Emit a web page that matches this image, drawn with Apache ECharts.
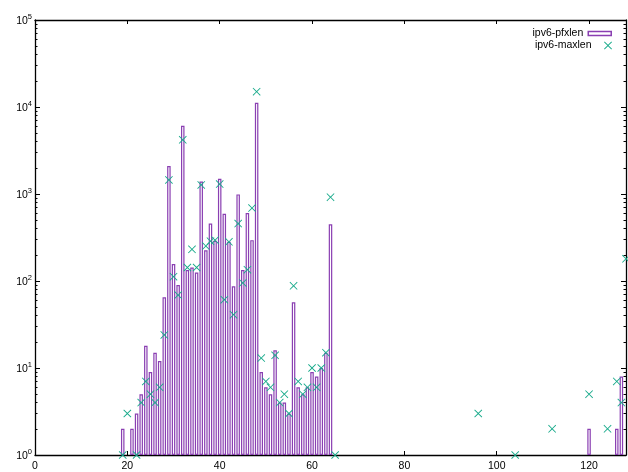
<!DOCTYPE html>
<html><head><meta charset="utf-8">
<script src="https://cdn.jsdelivr.net/npm/echarts@6/dist/echarts.min.js"></script>
<style>html,body{margin:0;padding:0;background:#fff}#c{width:628px;height:472px}</style>
</head><body><div id="c"></div>
<script>
// ipv6-pfxlen (boxes): prefix length -> count
const pfxLen = [19,21,22,23,24,25,26,27,28,29,30,31,32,33,34,35,36,37,38,39,40,41,42,43,44,45,46,47,48,49,50,51,52,53,54,55,56,57,58,59,60,61,62,63,64,120,126,127];
const pfxCount = [2,2,3,5,18,9,15,12,65,2100,157,90,6100,134,143,125,1390,226,457,290,1500,594,282,87,990,134,605,295,11200,9,6,5,16,4,4,3,57,6,5,6,9,8,10,15,449,2,2,8];
// ipv6-maxlen (crosses): max length -> count
const maxLen = [19,20,22,23,24,25,26,27,28,29,30,31,32,33,34,35,36,37,38,39,40,41,42,43,44,45,46,47,48,49,50,51,52,53,54,55,56,57,58,59,60,61,62,63,64,65,96,104,112,120,124,126,127,128];
const maxCount = [1,3,1,4,7,5,4,6,24,1450,112,69,4190,143,231,143,1270,252,287,295,1300,61,282,41,457,95,135,690,15000,13,7,6,14,4,5,3,88,7,5,6,10,6,10,15,920,1,3,1,2,5,2,7,4,180];
const xTicks = [0,20,40,60,80,100,120];
const seriesNames = ['ipv6-pfxlen','ipv6-maxlen'];

const PURPLE = '#8a3fb2', TEAL = '#1aab8c';
const FONT = 'Liberation Sans';
const minorVals = [];
for (let e = 0; e < 5; e++) for (let m = 2; m <= 9; m++) minorVals.push(m * Math.pow(10, e));
const CROSS = 'path://M0,0.8L0.8,0L5,4.2L9.2,0L10,0.8L5.8,5L10,9.2L9.2,10L5,5.8L0.8,10L0,9.2L4.2,5Z';

const chart = echarts.init(document.getElementById('c'), null, {renderer: 'canvas'});
const yBase = {type: 'log', min: 1, max: 100000, logBase: 10, splitLine: {show: false}};
chart.setOption({
  animation: false,
  backgroundColor: '#fff',
  grid: {left: 35, right: 2, top: 20, bottom: 14},
  xAxis: [
    {type: 'value', min: 0, max: 128, position: 'bottom',
     axisLine: {lineStyle: {color: '#000', width: 1.3}},
     axisTick: {inside: true, length: 4, lineStyle: {color: '#000'}, customValues: xTicks},
     axisLabel: {margin: 6, fontFamily: FONT, fontSize: 10.5, color: '#000', customValues: xTicks},
     splitLine: {show: false}},
    {type: 'value', min: 0, max: 128, position: 'top',
     axisLine: {lineStyle: {color: '#000', width: 1.3}},
     axisTick: {inside: true, length: 4, lineStyle: {color: '#000'}, customValues: xTicks},
     axisLabel: {show: false}, splitLine: {show: false}}
  ],
  yAxis: [
    Object.assign({}, yBase, {position: 'left',
      axisLine: {show: true, lineStyle: {color: '#000', width: 1.3}},
      axisTick: {inside: true, length: 5, lineStyle: {color: '#000'}},
      axisLabel: {margin: 3, color: '#000',
        formatter: v => '{b|10}{s|' + Math.round(Math.log10(v)) + '}',
        rich: {b: {fontFamily: FONT, fontSize: 10.5, verticalAlign: 'bottom'},
               s: {fontFamily: FONT, fontSize: 7.5, verticalAlign: 'bottom', padding: [0, 0, 6, 0]}}}}),
    Object.assign({}, yBase, {position: 'left',
      axisLine: {show: false},
      axisTick: {inside: true, length: 2.5, lineStyle: {color: '#000'}, customValues: minorVals},
      axisLabel: {show: false}}),
    Object.assign({}, yBase, {position: 'right',
      axisLine: {show: true, lineStyle: {color: '#000', width: 1.3}},
      axisTick: {inside: true, length: 5, lineStyle: {color: '#000'}},
      axisLabel: {show: false}}),
    Object.assign({}, yBase, {position: 'right',
      axisLine: {show: false},
      axisTick: {inside: true, length: 2.5, lineStyle: {color: '#000'}, customValues: minorVals},
      axisLabel: {show: false}})
  ],
  legend: [
    {data: [{name: seriesNames[0], icon: 'rect', itemStyle: {color: '#fff', borderColor: PURPLE, borderWidth: 1.5}}],
     right: 11, top: 23, align: 'right', itemWidth: 23, itemHeight: 4, itemGap: 0,
     textStyle: {fontFamily: FONT, fontSize: 10.5, color: '#000'}, selectedMode: false},
    {data: [{name: seriesNames[1], icon: CROSS, itemStyle: {color: TEAL, borderWidth: 0}}],
     right: 11, top: 35, align: 'right', itemWidth: 23, itemHeight: 8, itemGap: 0,
     textStyle: {fontFamily: FONT, fontSize: 10.5, color: '#000'}, selectedMode: false}
  ],
  series: [
    {name: seriesNames[0], type: 'bar', xAxisIndex: 0, yAxisIndex: 0,
     data: pfxLen.map((x, i) => [x, pfxCount[i]]),
     barWidth: 3.5, itemStyle: {color: '#fff', borderColor: PURPLE, borderWidth: 1.2}, clip: true, z: 2},
    {name: seriesNames[1], type: 'scatter', xAxisIndex: 0, yAxisIndex: 0,
     data: maxLen.map((x, i) => [x, maxCount[i]]),
     symbol: CROSS, symbolSize: 8, itemStyle: {color: TEAL, opacity: 1}, clip: false, z: 3}
  ]
});
</script></body></html>
